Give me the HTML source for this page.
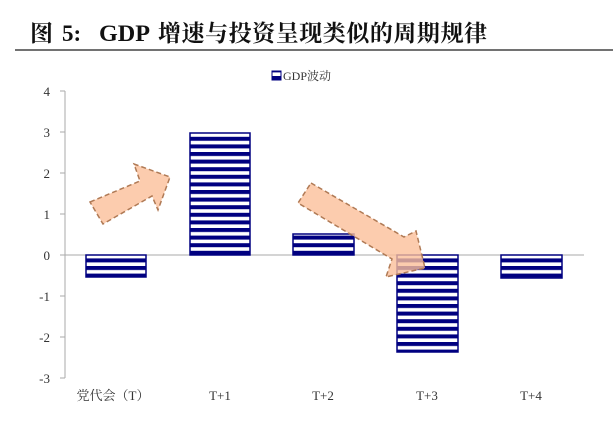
<!DOCTYPE html>
<html><head><meta charset="utf-8"><style>
body{margin:0;background:#fff;width:613px;height:430px;overflow:hidden}
svg{display:block}
</style></head><body>
<svg width="613" height="430" xmlns="http://www.w3.org/2000/svg" font-family="'Liberation Serif','Noto Serif CJK SC',serif">
<defs>
<pattern id="st" patternUnits="userSpaceOnUse" width="8" height="7.6" y="0">
<rect width="8" height="7.6" fill="#fff"/><rect width="8" height="4" fill="#000080"/>
</pattern>
</defs>
<g font-size="23" font-weight="bold" fill="#111">
<text x="30" y="41">图</text>
<text x="62" y="41">5:</text>
<text x="99" y="41" textLength="51" lengthAdjust="spacingAndGlyphs">GDP</text>
<text x="158" y="41" textLength="329" lengthAdjust="spacing">增速与投资呈现类似的周期规律</text>
</g>
<line x1="15" y1="50" x2="613" y2="50" stroke="#444" stroke-width="1.5"/>
<rect x="272" y="71" width="9" height="9" fill="url(#st)" stroke="#000080"/>
<text x="283" y="80" font-size="12" fill="#333">GDP波动</text>
<g font-size="13" fill="#333" text-anchor="end">
<text x="50" y="96">4</text><text x="50" y="137">3</text><text x="50" y="178">2</text><text x="50" y="219">1</text>
<text x="50" y="260">0</text><text x="50" y="301">-1</text><text x="50" y="342">-2</text><text x="50" y="383">-3</text>
</g>
<g stroke="#aaa" stroke-width="1">
<line x1="65" y1="91" x2="65" y2="378"/>
<line x1="60" y1="91" x2="65" y2="91"/><line x1="60" y1="132" x2="65" y2="132"/><line x1="60" y1="173" x2="65" y2="173"/>
<line x1="60" y1="214" x2="65" y2="214"/><line x1="60" y1="255" x2="65" y2="255"/><line x1="60" y1="296" x2="65" y2="296"/>
<line x1="60" y1="337" x2="65" y2="337"/><line x1="60" y1="378" x2="65" y2="378"/>
<line x1="65" y1="255" x2="584" y2="255"/>
</g>
<g fill="url(#st)" stroke="#000080" stroke-width="1.5">
<rect x="86" y="255" width="60" height="22"/>
<rect x="190" y="133" width="60" height="122"/>
<rect x="293" y="234" width="61" height="21"/>
<rect x="397" y="255" width="61" height="97"/>
<rect x="501" y="255" width="61" height="23"/>
</g>
<g fill="#fbbf9a" fill-opacity="0.8" stroke="#b07a55" stroke-width="1.5" stroke-dasharray="5,3">
<polygon points="90,202 140,181 134,164 170,177 158,210 152,196 103,224"/>
<polygon points="311,183 404,237 416,231 425,268 386,277 392,259 298,203"/>
</g>
<g font-size="13" fill="#333" text-anchor="middle">
<text x="113" y="400">党代会（T）</text><text x="220" y="400">T+1</text><text x="323" y="400">T+2</text>
<text x="427" y="400">T+3</text><text x="531" y="400">T+4</text>
</g>
</svg>
</body></html>
